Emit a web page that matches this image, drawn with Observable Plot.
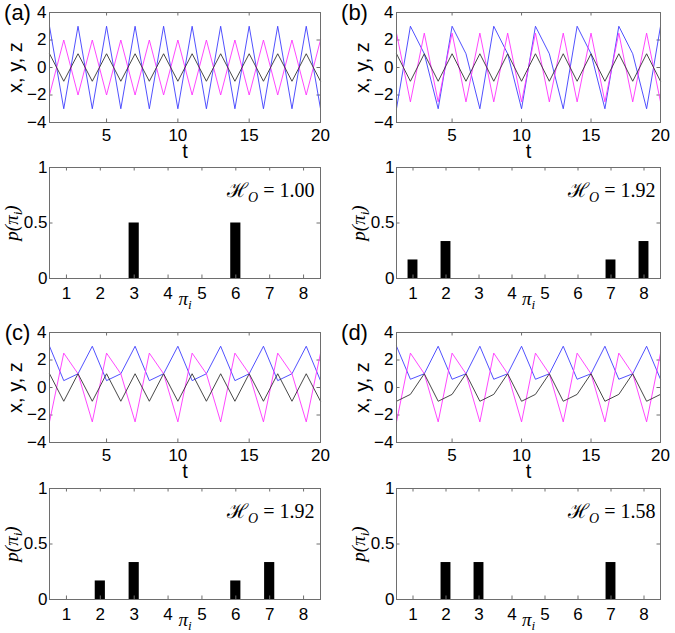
<!DOCTYPE html>
<html><head><meta charset="utf-8">
<script src="https://cdn.jsdelivr.net/npm/d3@7"></script>
<script src="https://cdn.jsdelivr.net/npm/@observablehq/plot@0.6"></script>
<style>
body{margin:0;background:#fff;}
#fig{position:relative;width:675px;height:633px;overflow:hidden;}
#fig svg{position:absolute;}
</style></head><body><div id="fig"></div>
<script>
// ---- data ----
const t = [1,2,3,4,5,6,7,8,9,10,11,12,13,14,15,16,17,18,19,20];
const aBlue  = [3,-3,3,-3,3,-3,3,-3,3,-3,3,-3,3,-3,3,-3,3,-3,3,-3];
const aMag   = [-2,2,-2,2,-2,2,-2,2,-2,2,-2,2,-2,2,-2,2,-2,2,-2,2];
const aBlack = [1,-1,1,-1,1,-1,1,-1,1,-1,1,-1,1,-1,1,-1,1,-1,1,-1];
const bBlue  = [-3,3,1,-3,3,1,-3,3,1,-3,3,1,-3,3,1,-3,3,1,-3,3];
const bMag   = [2.5,-2.5,2.5,-2.5,2.5,-2.5,2.5,-2.5,2.5,-2.5,2.5,-2.5,2.5,-2.5,2.5,-2.5,2.5,-2.5,2.5,-2.5];
const bBlack = [1,-1,1,-1,1,-1,1,-1,1,-1,1,-1,1,-1,1,-1,1,-1,1,-1];
const cBlue  = [3,0.5,1,3,0.5,1,3,0.5,1,3,0.5,1,3,0.5,1,3,0.5,1,3,0.5];
const cMag   = [-2.5,2.5,1,-2.5,2.5,1,-2.5,2.5,1,-2.5,2.5,1,-2.5,2.5,1,-2.5,2.5,1,-2.5,2.5];
const cBlack = [1,-1,1,-1,1,-1,1,-1,1,-1,1,-1,1,-1,1,-1,1,-1,1,-1];
const dBlue  = [3,0.6,1,3,0.6,1,3,0.6,1,3,0.6,1,3,0.6,1,3,0.6,1,3,0.6];
const dMag   = [-2.5,2.5,1,-2.5,2.5,1,-2.5,2.5,1,-2.5,2.5,1,-2.5,2.5,1,-2.5,2.5,1,-2.5,2.5];
const dBlack = [-1,-0.5,1,-1,-0.5,1,-1,-0.5,1,-1,-0.5,1,-1,-0.5,1,-1,-0.5,1,-1,-0.5];

const patterns = [1,2,3,4,5,6,7,8];
const pA = [0,0,0.5,0,0,0.5,0,0];
const pB = [0.167,0.333,0,0,0,0,0.167,0.333];
const pC = [0,0.167,0.333,0,0,0.167,0.333,0];
const pD = [0,0.333,0.333,0,0,0,0.333,0];
const entropy = ["1.00","1.92","1.92","1.58"];
const panelLabels = ["(a)","(b)","(c)","(d)"];

const tTicks = [5,10,15,20];
const tsYTicks = [-4,-2,0,2,4];
const piTicks = [1,2,3,4,5,6,7,8];
const pTicks = [0,0.5,1];

// ---- styling ----
const SANS = "Liberation Sans, Arial, Helvetica, sans-serif";
const SERIF = "Liberation Serif, DejaVu Serif, serif";
const FRAME = "#6e6e6e";
const COLORS = {blue:"#3d3dff", mag:"#ff33ff", black:"#333333"};
const TICK = 3.5;
const TICKFONT = 17;

function baseStyle(){
  return {fontFamily: SANS, fontSize: TICKFONT + "px", color: "#000", background: "transparent", overflow: "visible"};
}

function tsPlot(blue, mag, black, label, col){
  const W = 335, H = 160, mt = 12, mb = 38;
  const ml = col === 0 ? 49 : 61, mr = col === 0 ? 15 : 10;
  const fw = W - ml - mr, fh = H - mt - mb;
  return Plot.plot({
    width: W, height: H, marginLeft: ml, marginRight: mr, marginTop: mt, marginBottom: mb,
    style: baseStyle(),
    x: {domain: [1, 20]},
    y: {domain: [-4, 4]},
    marks: [
      Plot.tickX(tTicks, {x: d => d, insetTop: fh - TICK, stroke: FRAME}),
      Plot.tickX(tTicks, {x: d => d, insetBottom: fh - TICK, stroke: FRAME}),
      Plot.tickY(tsYTicks, {y: d => d, insetRight: fw - TICK, stroke: FRAME}),
      Plot.tickY(tsYTicks, {y: d => d, insetLeft: fw - TICK, stroke: FRAME}),
      Plot.axisX(tTicks, {tickSize: 0, tickPadding: 6, label: null, fontSize: TICKFONT}),
      Plot.axisY(tsYTicks, {tickSize: 0, tickPadding: 3, label: null, fontSize: TICKFONT}),
      Plot.line(blue, {x: t, y: blue, stroke: COLORS.blue, strokeWidth: 0.9}),
      Plot.line(mag, {x: t, y: mag, stroke: COLORS.mag, strokeWidth: 0.9}),
      Plot.line(black, {x: t, y: black, stroke: COLORS.black, strokeWidth: 0.9}),
      Plot.frame({stroke: FRAME}),
      Plot.text(["t"], {text: d => d, frameAnchor: "bottom", lineAnchor: "middle", textAnchor: "middle", dy: 29, fontSize: 20}),
      Plot.text(["x, y, z"], {text: d => d, frameAnchor: "left", lineAnchor: "middle", textAnchor: "middle", dx: -34, rotate: -90, fontSize: 20}),
      Plot.text([label], {text: d => d, frameAnchor: "top-left", lineAnchor: "middle", textAnchor: "middle", dx: col === 0 ? -32 : -42, dy: 0, fontSize: 22})
    ]
  });
}

function barPlot(probs, H, label, col){
  const W = 335, mt = 12, mb = H - 12 - 111;
  const ml = col === 0 ? 49 : 61, mr = col === 0 ? 15 : 10;
  const fw = W - ml - mr, fh = H - mt - mb;
  const rows = patterns.map((p, i) => ({pi: p, p: probs[i]}));
  return Plot.plot({
    width: W, height: H, marginLeft: ml, marginRight: mr, marginTop: mt, marginBottom: mb,
    style: baseStyle(),
    x: {domain: [0.5, 8.5]},
    y: {domain: [0, 1]},
    marks: [
      Plot.rectY(rows, {x1: d => d.pi - 0.15, x2: d => d.pi + 0.15, y1: 0, y2: d => d.p, fill: "#000"}),
      Plot.tickX(piTicks, {x: d => d, insetTop: fh - TICK, stroke: FRAME}),
      Plot.tickX(piTicks, {x: d => d, insetBottom: fh - TICK, stroke: FRAME}),
      Plot.tickY(pTicks, {y: d => d, insetRight: fw - TICK, stroke: FRAME}),
      Plot.tickY(pTicks, {y: d => d, insetLeft: fw - TICK, stroke: FRAME}),
      Plot.axisX(piTicks, {tickSize: 0, tickPadding: 8, label: null, fontSize: TICKFONT}),
      Plot.axisY(pTicks, {tickSize: 0, tickPadding: 2, label: null, fontSize: TICKFONT, tickFormat: d => String(d)}),
      Plot.frame({stroke: FRAME}),
      Plot.text(["π_i"], {text: d => d, frameAnchor: "bottom", lineAnchor: "middle", textAnchor: "middle", dy: 20, fontSize: 19, fontFamily: SERIF, fontStyle: "italic"}),
      Plot.text(["p(π_i)"], {text: d => d, frameAnchor: "left", lineAnchor: "middle", textAnchor: "middle", dx: -38, rotate: -90, fontSize: 19, fontFamily: SERIF, fontStyle: "italic"}),
      Plot.text(["ℋ_O = " + label], {text: d => d, frameAnchor: "top-right", lineAnchor: "middle", textAnchor: "end", dx: col === 0 ? -6 : -5, dy: 23, fontSize: 20, fontFamily: SERIF})
    ]
  });
}

function subscriptify(svg){
  d3.select(svg).selectAll("text").each(function(){
    const s = this.textContent;
    const k = s.indexOf("_");
    if (k < 0) return;
    const fs = parseFloat(getComputedStyle(this).fontSize) || 20;
    const el = d3.select(this);
    el.text(null);
    el.append("tspan").text(s.slice(0, k));
    el.append("tspan").attr("dy", 0.25 * fs).attr("font-size", 0.7 * fs).attr("font-style", "italic").text(s[k + 1]);
    if (k + 2 < s.length) el.append("tspan").attr("dy", -0.25 * fs).attr("font-style", s.startsWith("ℋ") ? "normal" : null).text(s.slice(k + 2));
  });
}

const fig = document.getElementById("fig");
const layout = [
  {plot: () => tsPlot(aBlue, aMag, aBlack, panelLabels[0], 0), left: 0, top: 0},
  {plot: () => tsPlot(bBlue, bMag, bBlack, panelLabels[1], 1), left: 335, top: 0},
  {plot: () => barPlot(pA, 155, entropy[0], 0), left: 0, top: 155},
  {plot: () => barPlot(pB, 155, entropy[1], 1), left: 335, top: 155},
  {plot: () => tsPlot(cBlue, cMag, cBlack, panelLabels[2], 0), left: 0, top: 320},
  {plot: () => tsPlot(dBlue, dMag, dBlack, panelLabels[3], 1), left: 335, top: 320},
  {plot: () => barPlot(pC, 157, entropy[2], 0), left: 0, top: 476},
  {plot: () => barPlot(pD, 157, entropy[3], 1), left: 335, top: 476}
];
for (const L of layout) {
  const svg = L.plot();
  svg.style.left = L.left + "px";
  svg.style.top = L.top + "px";
  svg.style.position = "absolute";
  fig.appendChild(svg);
  subscriptify(svg);
}
</script></body></html>
